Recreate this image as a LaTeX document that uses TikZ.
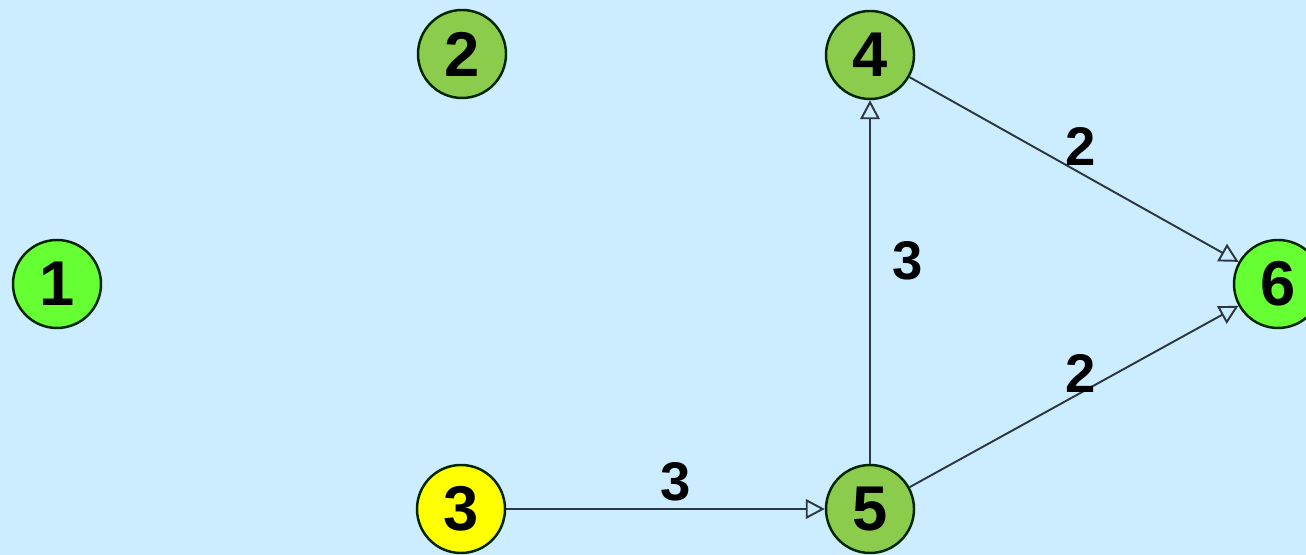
\documentclass[tikz,border=0pt]{standalone}
\usepackage{fontspec}
\setmainfont{Liberation Sans}
\usepackage{xcolor}
\usepackage{tikz}
\usetikzlibrary{arrows.meta,positioning}

\definecolor{bgblue}{RGB}{204,236,255}
\definecolor{limegreen}{RGB}{102,255,51}
\definecolor{olivegreen}{RGB}{140,204,76}
\definecolor{vertexyellow}{RGB}{255,255,0}
\definecolor{edgegray}{RGB}{45,55,65}

\begin{document}
\begin{tikzpicture}[
    vertex/.style={circle,draw=black!85!green,line width=0.7pt,minimum size=0.88cm,inner sep=0pt,
      font=\fontsize{18}{18}\selectfont\bfseries},
    edge/.style={draw=edgegray,line width=0.55pt,-{Triangle[open,length=5.4pt,width=5.6pt]}},
    weight/.style={font=\fontsize{15.5}{15.5}\selectfont\bfseries,inner sep=0pt}]
  \clip (0,0) rectangle (13.06,5.55);
  \fill [bgblue] (0,0) rectangle (13.06,5.55);
  \node [vertex,fill=limegreen] (v1) at (0.57, 2.71) {1};
  \node [vertex,fill=olivegreen] (v2) at (4.62, 5.01) {2};
  \node [vertex,fill=vertexyellow] (v3) at (4.61, 0.46) {3};
  \node [vertex,fill=olivegreen] (v4) at (8.70, 5.00) {4};
  \node [vertex,fill=olivegreen] (v5) at (8.70, 0.46) {5};
  \node [vertex,fill=limegreen] (v6) at (12.78, 2.71) {6};
  \draw [edge] (v3) -- node [weight,above=2pt,xshift=3pt] {3} (v5);
  \draw [edge] (v5) -- node [weight,right=6pt,yshift=6pt] {3} (v4);
  \draw [edge] (v4) -- node [weight,above=1pt,xshift=2pt] {2} (v6);
  \draw [edge] (v5) -- node [weight,above=1pt,xshift=2pt] {2} (v6);
\end{tikzpicture}
\end{document}
